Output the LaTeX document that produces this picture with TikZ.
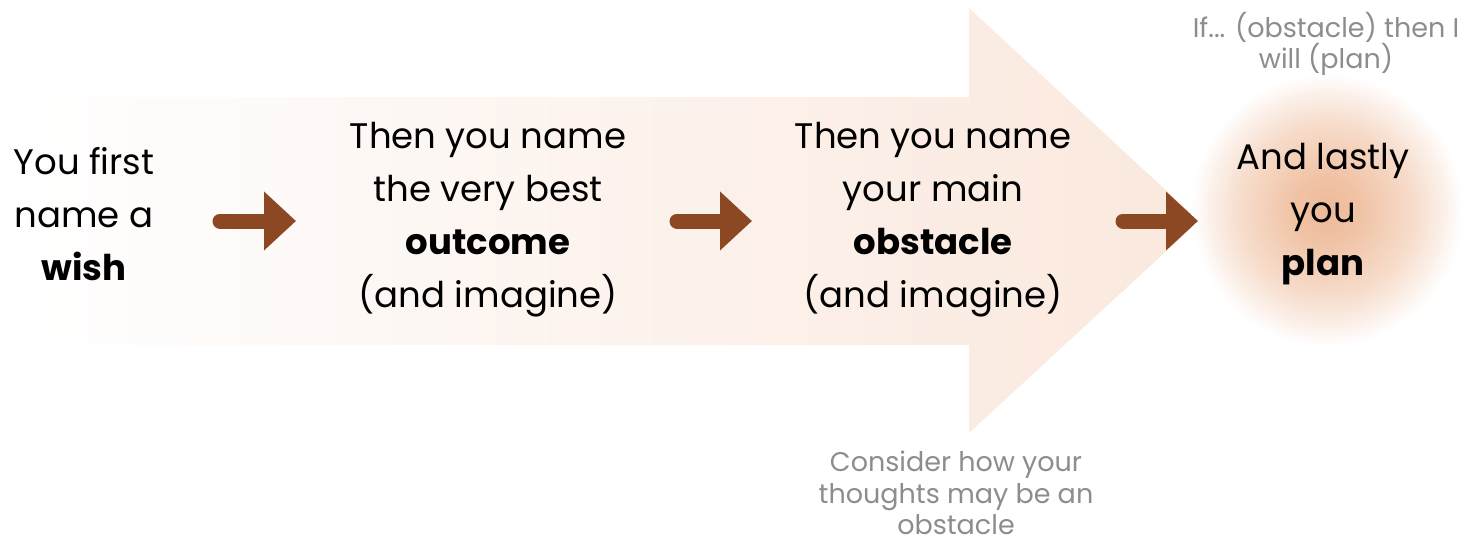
\documentclass[tikz,border=0pt]{standalone}
\usepackage{fontspec}
\setmainfont{Poppins}
\usepackage{xcolor}
\usetikzlibrary{arrows.meta, positioning}

\definecolor{peach}{RGB}{250,232,221}
\definecolor{glowcore}{RGB}{238,186,152}
\definecolor{rust}{RGB}{139,72,34}
\definecolor{hintgrey}{RGB}{140,140,145}

\pgfdeclareradialshading{planglow}{\pgfpoint{0bp}{0bp}}{color(0bp)=(glowcore); color(6bp)=(glowcore!88!white); color(16bp)=(glowcore!50!white); color(22bp)=(glowcore!18!white); color(25bp)=(white); color(50bp)=(white)}

\tikzset{
  stepnote/.style={align=center, inner sep=0pt, font=\fontsize{35.5}{53}\selectfont},
  hintnote/.style={align=center, inner sep=0pt, text=hintgrey, font=\fontsize{27}{31.5}\selectfont},
  steparrow/.style={rust, line width=15pt, line cap=round, -{Triangle[length=32pt, width=57pt]}}
}

\begin{document}
\begin{tikzpicture}[x=1pt, y=-1pt]
    \useasboundingbox (0,0) rectangle (1474,543);

    \shade[left color=white, right color=peach] (0,97) -- (969,97) -- (969,8) -- (1199,221) -- (969,433) -- (969,345) -- (0,345) -- cycle;
    \shade[shading=planglow] (1327,210) circle [radius=136pt];

    \node[stepnote] at (84,214) (wish) {You first\\name a\\\textbf{wish}};
    \node[stepnote] at (488,220) (outcome) {Then you name\\the very best\\\textbf{outcome}\\(and imagine)};
    \node[stepnote] at (933,220) (obstacle) {Then you name\\your main\\\textbf{obstacle}\\(and imagine)};
    \node[stepnote] at (1323,214) (plan) {And lastly\\you\\\textbf{plan}};

    \node[hintnote] at (1326,44) (ifthen) {If... (obstacle) then I\\will (plan)};
    \node[hintnote] at (956,493) (consider) {Consider how your\\thoughts may be an\\obstacle};

    \coordinate (a1) at (220,221);
    \coordinate (b1) at (296,221);
    \coordinate (a2) at (677,221);
    \coordinate (b2) at (752,221);
    \coordinate (a3) at (1123,221);
    \coordinate (b3) at (1198,221);
    \draw[steparrow] (a1) -- (b1);
    \draw[steparrow] (a2) -- (b2);
    \draw[steparrow] (a3) -- (b3);

  \end{tikzpicture}
\end{document}
